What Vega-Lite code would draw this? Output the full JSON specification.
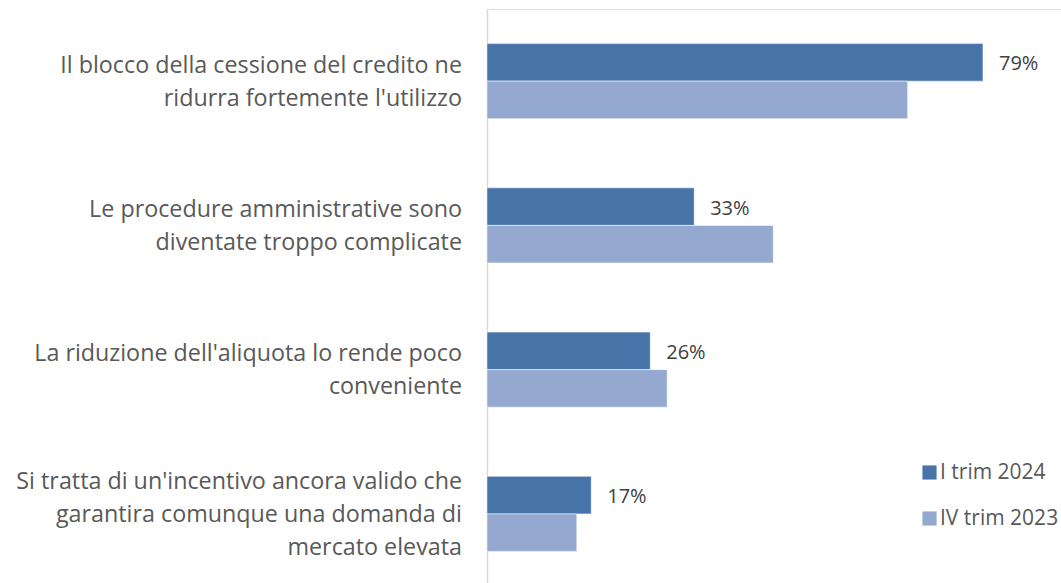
{
  "$schema": "https://vega.github.io/schema/vega-lite/v6.json",
  "autosize": {"type": "none"},
  "padding": {"left": 487, "top": 9, "right": 0, "bottom": 0},
  "width": 574,
  "height": 577,
  "background": "white",
  "data": {
    "values": [
      {"cat": "Il blocco della cessione del credito ne|ridurra fortemente l'utilizzo", "series": "I trim 2024", "value": 79, "label": "79%"},
      {"cat": "Il blocco della cessione del credito ne|ridurra fortemente l'utilizzo", "series": "IV trim 2023", "value": 67, "label": ""},
      {"cat": "Le procedure amministrative sono|diventate troppo complicate", "series": "I trim 2024", "value": 33, "label": "33%"},
      {"cat": "Le procedure amministrative sono|diventate troppo complicate", "series": "IV trim 2023", "value": 45.6, "label": ""},
      {"cat": "La riduzione dell'aliquota lo rende poco|conveniente", "series": "I trim 2024", "value": 26, "label": "26%"},
      {"cat": "La riduzione dell'aliquota lo rende poco|conveniente", "series": "IV trim 2023", "value": 28.7, "label": ""},
      {"cat": "Si tratta di un'incentivo ancora valido che|garantira comunque una domanda di|mercato elevata", "series": "I trim 2024", "value": 16.6, "label": "17%"},
      {"cat": "Si tratta di un'incentivo ancora valido che|garantira comunque una domanda di|mercato elevata", "series": "IV trim 2023", "value": 14.3, "label": ""}
    ]
  },
  "encoding": {
    "y": {
      "field": "cat", "type": "nominal", "sort": null, "title": null,
      "scale": {"paddingInner": 0.48, "paddingOuter": 0.24},
      "axis": {
        "labels": false,
        "ticks": false, "domainColor": "#d9d9d9", "domainWidth": 1.5, "grid": false
      }
    }
  },
  "layer": [
    {
      "mark": {"type": "bar", "stroke": "white", "strokeWidth": 0.5},
      "encoding": {
        "x": {
          "field": "value", "type": "quantitative",
          "scale": {"domain": [0, 91.43], "nice": false},
          "axis": null
        },
        "yOffset": {"field": "series", "type": "nominal", "sort": ["I trim 2024", "IV trim 2023"]},
        "color": {
          "field": "series", "type": "nominal",
          "scale": {"domain": ["I trim 2024", "IV trim 2023"], "range": ["#4673a8", "#95a9d0"]},
          "legend": {
            "title": null, "orient": "none", "legendX": 432, "legendY": 453,
            "symbolType": "square", "symbolSize": 200, "symbolStrokeWidth": 0,
            "labelFont": "Open Sans", "labelFontSize": 21, "labelColor": "#595959",
            "rowPadding": 24, "labelOffset": 0
          }
        }
      }
    },
    {
      "transform": [{"filter": "datum.series === 'I trim 2024'"}],
      "mark": {"type": "text", "align": "left", "baseline": "middle", "dx": 16, "dy": 2, "font": "Open Sans", "fontSize": 20},
      "encoding": {
        "x": {"field": "value", "type": "quantitative"},
        "yOffset": {"field": "series", "type": "nominal", "sort": ["I trim 2024", "IV trim 2023"]},
        "text": {"field": "label", "type": "nominal"},
        "color": {"value": "#404040"}
      }
    },
    {
      "transform": [{"filter": "datum.series === 'I trim 2024'"}],
      "mark": {
        "type": "text", "align": "right", "baseline": "middle", "dx": -25,
        "dy": {"expr": "-(length(split(datum.cat, '|')) - 1) * 16.5 + 1"},
        "lineBreak": "|", "lineHeight": 33,
        "font": "Open Sans", "fontSize": 23.3
      },
      "encoding": {
        "x": {"datum": 0, "type": "quantitative"},
        "text": {"field": "cat", "type": "nominal"},
        "color": {"value": "#595959"}
      }
    }
  ]
}
